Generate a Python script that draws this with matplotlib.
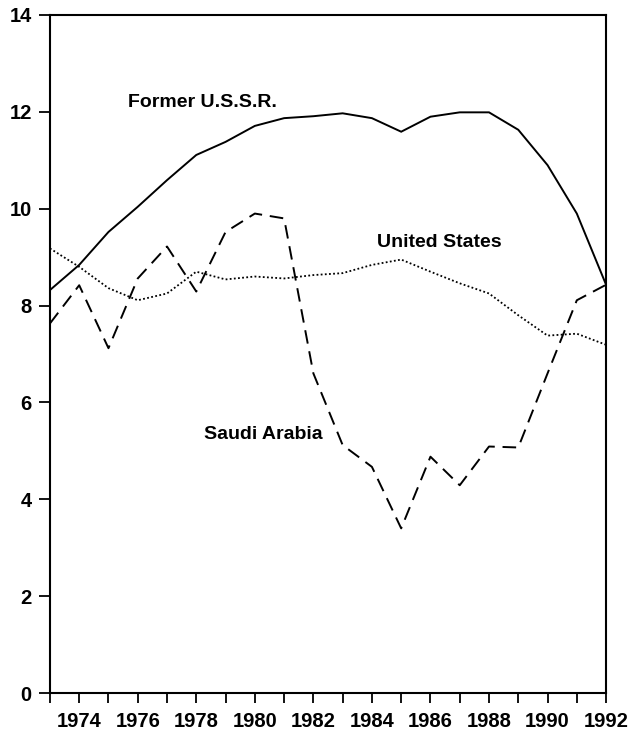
import matplotlib.pyplot as plt

plt.rcParams['font.family'] = ['Liberation Sans', 'DejaVu Sans']

years = list(range(1973, 1993))

# million barrels per day
ussr = [8.32, 8.84, 9.52, 10.04, 10.59, 11.11, 11.38, 11.71, 11.87, 11.91,
        11.97, 11.87, 11.59, 11.90, 11.99, 11.99, 11.63, 10.90, 9.90, 8.43]
united_states = [9.18, 8.80, 8.36, 8.11, 8.25, 8.70, 8.54, 8.60, 8.56, 8.63,
                 8.67, 8.84, 8.95, 8.70, 8.46, 8.25, 7.80, 7.38, 7.42, 7.19]
saudi_arabia = [7.63, 8.42, 7.12, 8.56, 9.22, 8.29, 9.52, 9.90, 9.80, 6.60,
                5.12, 4.67, 3.40, 4.88, 4.29, 5.09, 5.07, 6.60, 8.11, 8.43]

year_labels = [str(y) for y in range(1974, 1993, 2)]
y_labels = [str(v) for v in range(0, 15, 2)]

fig = plt.figure(figsize=(6.32, 7.35), dpi=100)
ax = fig.add_axes([0.079, 0.0571, 0.880, 0.9225])

ax.plot(years, ussr, color='black', lw=1.4, solid_joinstyle='miter')
ax.plot(years, united_states, color='black', lw=1.3, linestyle=(0, (1, 1.3)))
ax.plot(years, saudi_arabia, color='black', lw=1.4, linestyle=(0, (7, 4)))

ax.set_xlim(1973, 1992)
ax.set_ylim(0, 14)

ax.set_xticks(years, minor=True)
ax.set_xticks(range(1974, 1993, 2))
ax.set_xticklabels(year_labels)
ax.set_yticks(range(0, 15, 2))
ax.set_yticklabels(y_labels)

ax.tick_params(axis='x', which='both', direction='out', length=7, width=1.3,
               labelsize=14.5, pad=7)
ax.tick_params(axis='y', direction='out', length=8, width=1.3,
               labelsize=14.5, pad=5)
for lbl in ax.get_xticklabels() + ax.get_yticklabels():
    lbl.set_fontweight('bold')

for s in ax.spines.values():
    s.set_linewidth(1.5)

ax.text(1978.2, 12.2, 'Former U.S.S.R.', fontsize=14, fontweight='bold',
        ha='center', va='center')
ax.text(1986.3, 9.3, 'United States', fontsize=14, fontweight='bold',
        ha='center', va='center')
ax.text(1980.3, 5.33, 'Saudi Arabia', fontsize=14, fontweight='bold',
        ha='center', va='center')

fig.savefig('out.png', dpi=100)
